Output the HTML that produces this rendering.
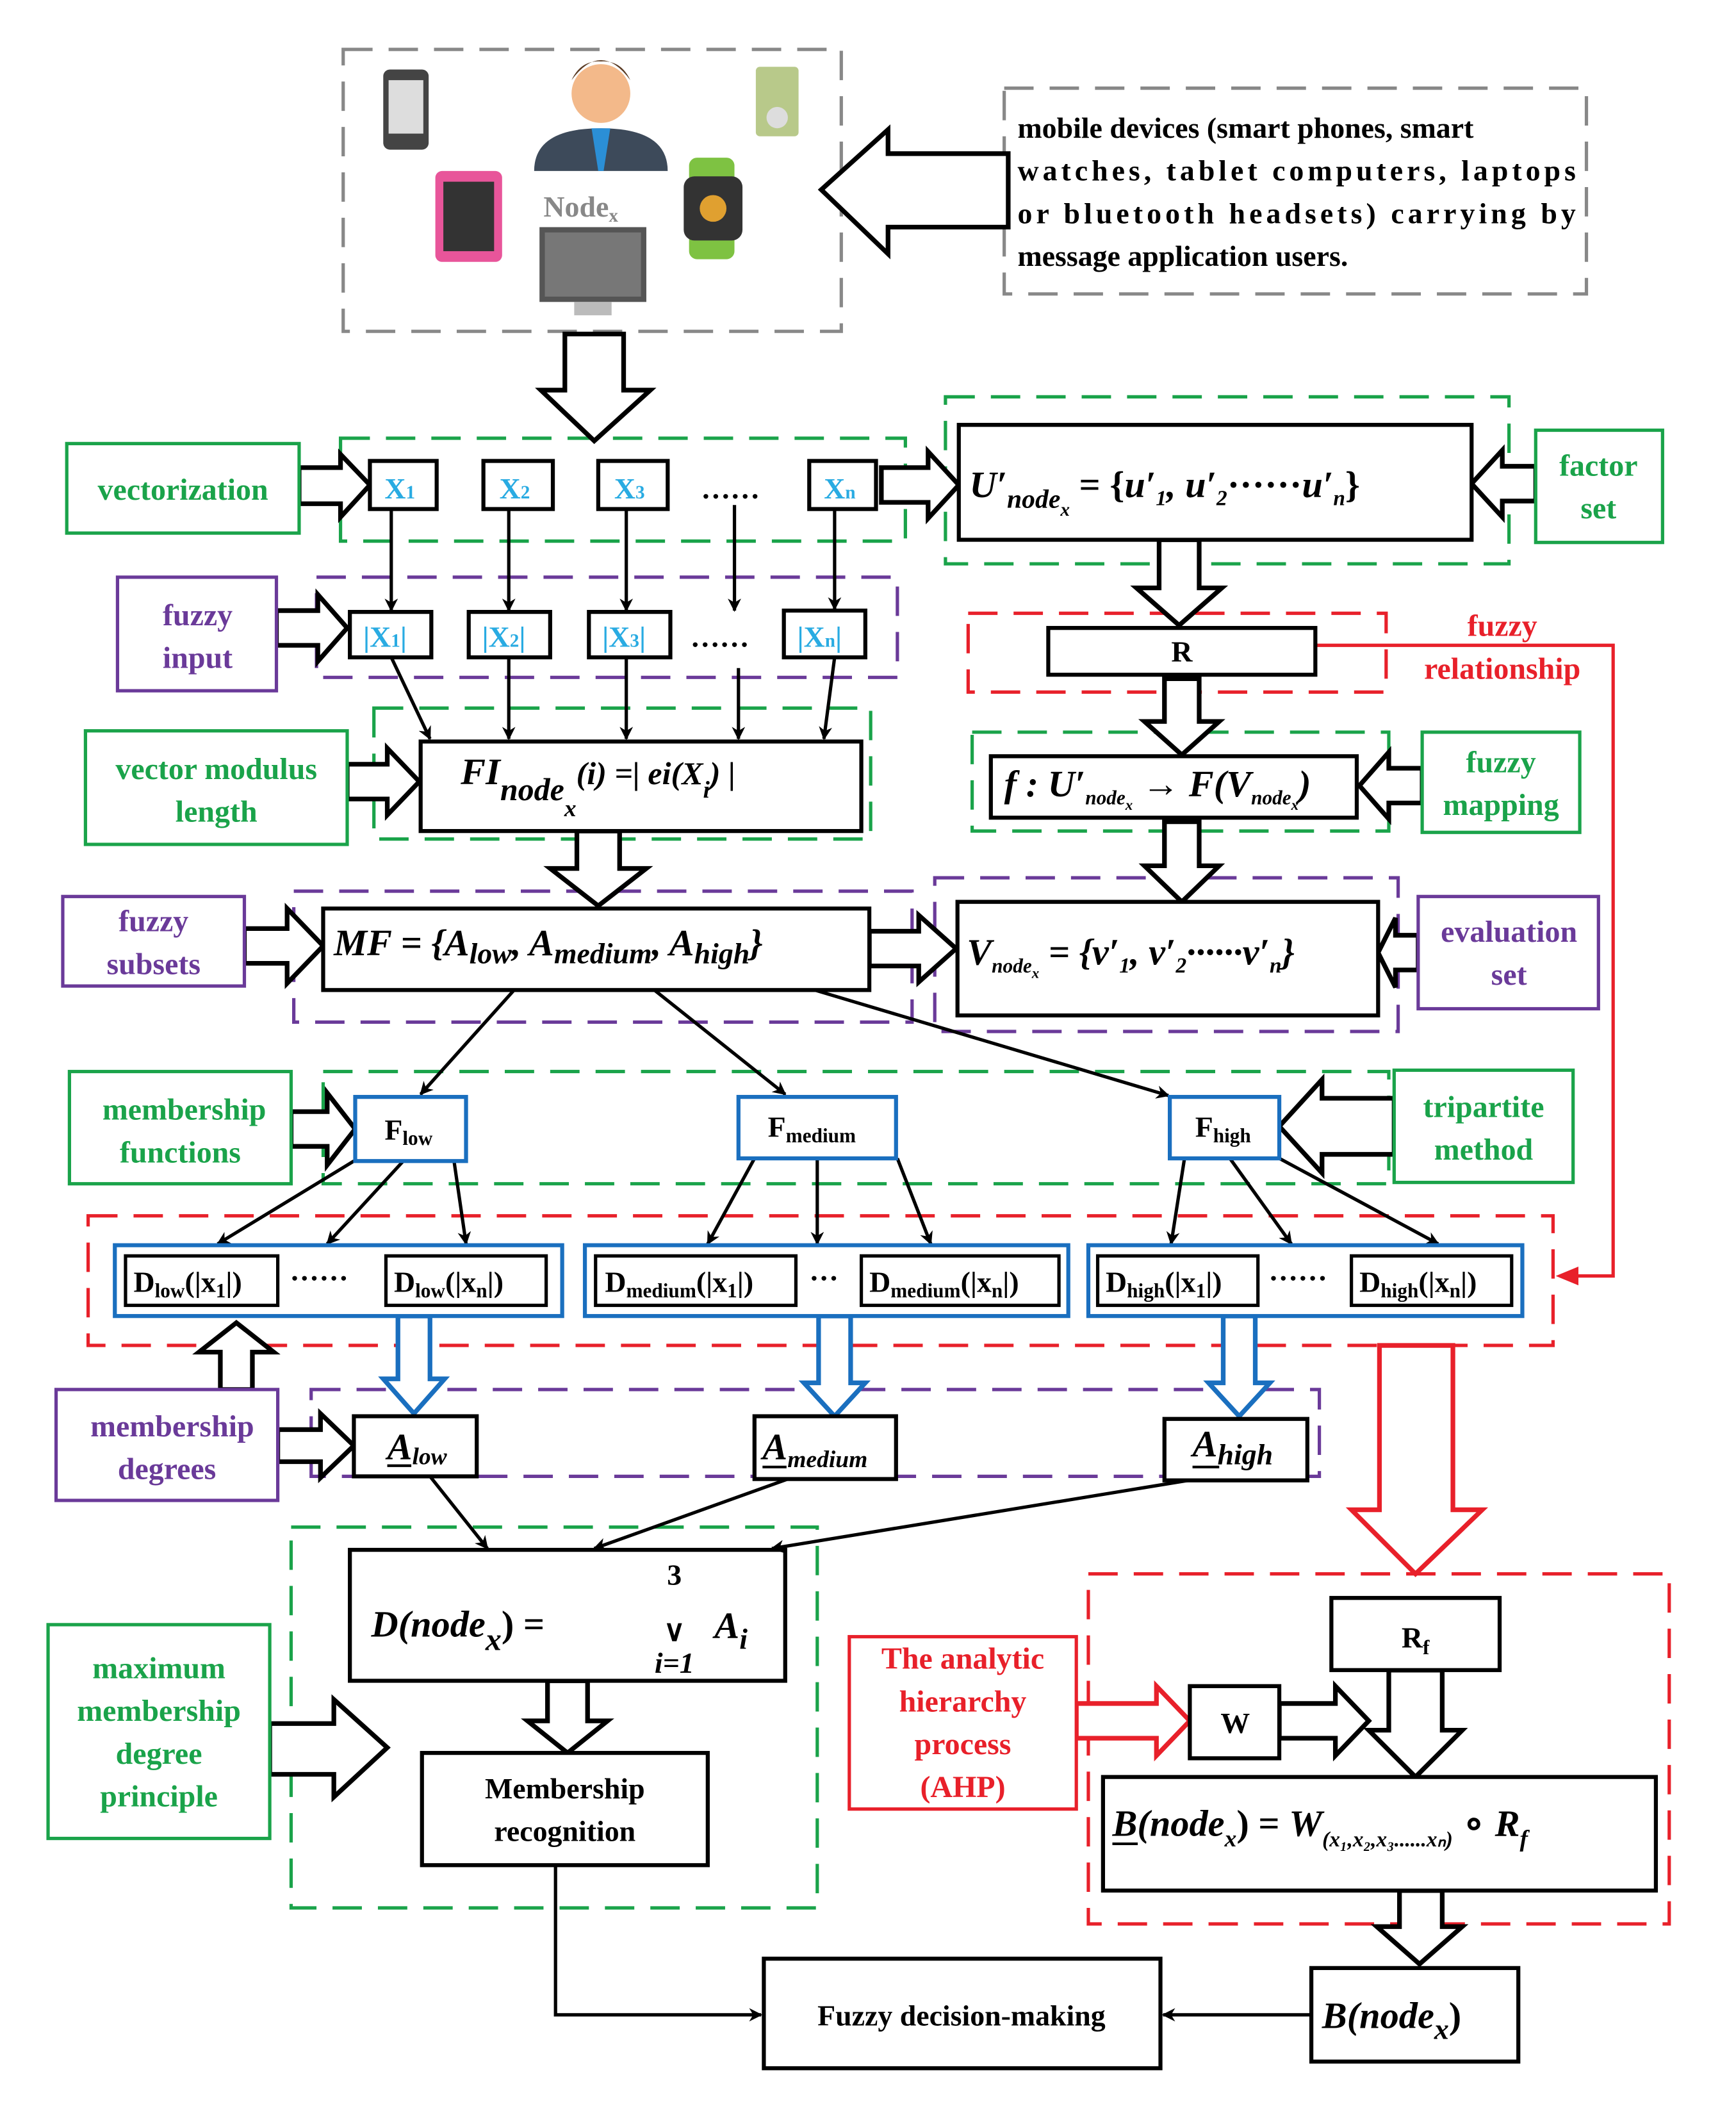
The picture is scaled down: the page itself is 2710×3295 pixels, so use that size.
<!DOCTYPE html>
<html><head><meta charset="utf-8">
<style>
html,body{margin:0;padding:0;background:#fff;}
svg{display:block;}
text{font-family:"Liberation Serif",serif;font-weight:bold;}
.t{font-size:22px;fill:#000;}
.g{font-size:23px;fill:#1aa34a;}
.p{font-size:23px;fill:#6a3a99;}
.r{font-size:23px;fill:#e8202a;}
.c{font-size:22px;fill:#29abe2;}
.m{font-style:italic;font-size:28px;}
</style></head><body>
<svg width="2710" height="3295" viewBox="0 0 1300 1580" preserveAspectRatio="none" xmlns="http://www.w3.org/2000/svg">
<defs>
<marker id="ar" markerWidth="10" markerHeight="10" refX="9" refY="5" orient="auto" markerUnits="userSpaceOnUse" viewBox="0 0 10 10">
<path d="M0,0 L10,5 L0,10 L3,5 z" fill="#000"/></marker>
</defs>
<rect width="1300" height="1580" fill="#fff"/>

<!-- dashed boxes -->
<g fill="none" stroke-width="2.5" stroke-dasharray="22,12">
<rect x="257" y="37" width="373" height="211" stroke="#888"/>
<rect x="752" y="66" width="436" height="154" stroke="#888"/>
<rect x="255" y="328" width="423" height="77" stroke="#1aa34a"/>
<rect x="708" y="297" width="422" height="125" stroke="#1aa34a"/>
<rect x="237" y="432" width="435" height="75" stroke="#6a3a99"/>
<rect x="725" y="459" width="313" height="59" stroke="#e8202a"/>
<rect x="280" y="530" width="372" height="98" stroke="#1aa34a"/>
<rect x="728" y="548" width="312" height="74" stroke="#1aa34a"/>
<rect x="220" y="667" width="463" height="98" stroke="#6a3a99"/>
<rect x="700" y="657" width="347" height="115" stroke="#6a3a99"/>
<rect x="242" y="802" width="798" height="84" stroke="#1aa34a"/>
<rect x="66" y="910" width="1097" height="97" stroke="#e8202a"/>
<rect x="233" y="1040" width="755" height="65" stroke="#6a3a99"/>
<rect x="218" y="1143" width="394" height="285" stroke="#1aa34a"/>
<rect x="815" y="1178" width="435" height="262" stroke="#e8202a"/>
</g>

<!-- device icons -->
<g>
<rect x="287" y="52" width="34" height="60" rx="5" fill="#444"/><rect x="291" y="60" width="26" height="40" fill="#ddd"/>
<circle cx="450" cy="70" r="22" fill="#f3b98a"/><path d="M428,60 Q450,30 472,60 Q465,45 450,46 Q435,45 428,60z" fill="#5a3a22"/>
<path d="M400,128 Q400,96 450,96 Q500,96 500,128z" fill="#3d4a5a"/><path d="M443,96 L457,96 L452,128 L448,128z" fill="#2b8fd6"/>
<rect x="566" y="50" width="32" height="52" rx="3" fill="#b8c98a"/><circle cx="582" cy="88" r="8" fill="#ddd"/>
<rect x="326" y="128" width="50" height="68" rx="5" fill="#e8559a"/><rect x="332" y="136" width="38" height="52" fill="#333"/>
<rect x="516" y="118" width="34" height="76" rx="6" fill="#7ec242"/><rect x="512" y="132" width="44" height="48" rx="8" fill="#333"/><circle cx="534" cy="156" r="10" fill="#e0a030"/>
<rect x="404" y="170" width="80" height="56" fill="#555"/><rect x="408" y="174" width="72" height="48" fill="#777"/><rect x="430" y="226" width="28" height="10" fill="#bbb"/>
<text x="407" y="162" font-size="22" fill="#888">Node<tspan font-size="14" dy="4">x</tspan></text>
</g>
<text class="t" x="762" y="103">mobile devices (smart phones, smart</text>
<text class="t" x="762" y="135" textLength="418">watches, tablet computers, laptops</text>
<text class="t" x="762" y="167" textLength="418">or bluetooth headsets) carrying by</text>
<text class="t" x="762" y="199">message application users.</text>

<!-- hollow arrows -->
<g fill="#fff" stroke="#000" stroke-width="3.5" stroke-linejoin="miter">
<polygon points="755,115 665,115 665,97 615,142 665,190 665,170 755,170"/>
<polygon points="423,250 467,250 467,292 487,292 445,330 405,292 423,292"/>
<polygon points="224,350 255,350 255,340 277,363 255,387 255,377 224,377"/>
<polygon points="660,350 695,350 695,338 718,363 695,388 695,376 660,376"/>
<polygon points="1150,349 1125,349 1125,337 1102,362 1125,387 1125,375 1150,375"/>
<polygon points="207,457 238,457 238,445 260,470 238,495 238,483 207,483"/>
<polygon points="868,404 898,404 898,440 915,440 883,468 851,440 868,440"/>
<polygon points="872,508 898,508 898,540 913,540 885,565 857,540 872,540"/>
<polygon points="260,572 290,572 290,560 314,585 290,610 290,598 260,598"/>
<polygon points="1065,575 1040,575 1040,563 1018,588 1040,613 1040,601 1065,601"/>
<polygon points="432,622 464,622 464,650 484,650 448,678 412,650 432,650"/>
<polygon points="872,615 898,615 898,648 913,648 885,675 857,648 872,648"/>
<polygon points="183,695 215,695 215,680 242,708 215,736 215,721 183,721"/>
<polygon points="651,697 688,697 688,685 716,710 688,735 688,723 651,723"/>
<polygon points="1062,700 1045,700 1045,687 1032,713 1045,739 1045,726 1062,726"/>
<polygon points="218,832 245,832 245,818 266,845 245,872 245,858 218,858"/>
<polygon points="1044,822 990,822 990,808 958,843 990,878 990,864 1044,864"/>
<polygon points="208,1070 240,1070 240,1058 265,1082 240,1106 240,1094 208,1094"/>
<polygon points="165,1040 189,1040 189,1012 205,1012 177,990 149,1012 165,1012"/>
<polygon points="410,1258 440,1258 440,1288 455,1288 425,1312 395,1288 410,1288"/>
<polygon points="202,1290 250,1290 250,1272 290,1308 250,1345 250,1328 202,1328"/>
<polygon points="958,1275 1000,1275 1000,1262 1025,1288 1000,1314 1000,1301 958,1301"/>
<polygon points="1040,1250 1080,1250 1080,1295 1095,1295 1060,1330 1025,1295 1040,1295"/>
<polygon points="1048,1415 1080,1415 1080,1442 1095,1442 1063,1470 1031,1442 1048,1442"/>
</g>
<g fill="#fff" stroke="#1a6fbf" stroke-width="3.5">
<polygon points="298,985 322,985 322,1032 333,1032 310,1058 287,1032 298,1032"/>
<polygon points="613,985 637,985 637,1035 648,1035 625,1060 602,1035 613,1035"/>
<polygon points="916,985 940,985 940,1035 951,1035 928,1060 905,1035 916,1035"/>
</g>
<g fill="#fff" stroke="#e8202a" stroke-width="3.5">
<polygon points="1033,1007 1088,1007 1088,1130 1110,1130 1060,1178 1012,1130 1033,1130"/>
<polygon points="806,1275 866,1275 866,1262 891,1288 866,1314 866,1301 806,1301"/>
</g>

<!-- label boxes -->
<g fill="#fff" stroke-width="2.5">
<rect x="50" y="332" width="174" height="67" stroke="#1aa34a"/>
<rect x="1150" y="322" width="95" height="84" stroke="#1aa34a"/>
<rect x="88" y="432" width="119" height="85" stroke="#6a3a99"/>
<rect x="64" y="547" width="196" height="85" stroke="#1aa34a"/>
<rect x="1065" y="548" width="118" height="75" stroke="#1aa34a"/>
<rect x="47" y="671" width="136" height="67" stroke="#6a3a99"/>
<rect x="1062" y="671" width="135" height="84" stroke="#6a3a99"/>
<rect x="52" y="802" width="166" height="84" stroke="#1aa34a"/>
<rect x="1044" y="801" width="134" height="84" stroke="#1aa34a"/>
<rect x="42" y="1040" width="166" height="83" stroke="#6a3a99"/>
<rect x="36" y="1216" width="166" height="160" stroke="#1aa34a"/>
<rect x="636" y="1225" width="170" height="129" stroke="#e8202a"/>
</g>
<text class="g" x="137" y="374" text-anchor="middle">vectorization</text>
<text class="g" x="1197" y="356" text-anchor="middle">factor</text><text class="g" x="1197" y="388" text-anchor="middle">set</text>
<text class="p" x="148" y="468" text-anchor="middle">fuzzy</text><text class="p" x="148" y="500" text-anchor="middle">input</text>
<text class="g" x="162" y="583" text-anchor="middle">vector modulus</text><text class="g" x="162" y="615" text-anchor="middle">length</text>
<text class="g" x="1124" y="578" text-anchor="middle">fuzzy</text><text class="g" x="1124" y="610" text-anchor="middle">mapping</text>
<text class="p" x="115" y="697" text-anchor="middle">fuzzy</text><text class="p" x="115" y="729" text-anchor="middle">subsets</text>
<text class="p" x="1130" y="705" text-anchor="middle">evaluation</text><text class="p" x="1130" y="737" text-anchor="middle">set</text>
<text class="g" x="138" y="838" text-anchor="middle">membership</text><text class="g" x="135" y="870" text-anchor="middle">functions</text>
<text class="g" x="1111" y="836" text-anchor="middle">tripartite</text><text class="g" x="1111" y="868" text-anchor="middle">method</text>
<text class="p" x="129" y="1075" text-anchor="middle">membership</text><text class="p" x="125" y="1107" text-anchor="middle">degrees</text>
<text class="g" x="119" y="1256" text-anchor="middle">maximum</text><text class="g" x="119" y="1288" text-anchor="middle">membership</text>
<text class="g" x="119" y="1320" text-anchor="middle">degree</text><text class="g" x="119" y="1352" text-anchor="middle">principle</text>
<text class="r" x="721" y="1249" text-anchor="middle">The analytic</text><text class="r" x="721" y="1281" text-anchor="middle">hierarchy</text>
<text class="r" x="721" y="1313" text-anchor="middle">process</text><text class="r" x="721" y="1345" text-anchor="middle">(AHP)</text>
<text class="r" x="1125" y="476" text-anchor="middle">fuzzy</text><text class="r" x="1125" y="508" text-anchor="middle">relationship</text>

<!-- red line fuzzy relationship -->
<polyline points="985,483 1208,483 1208,955 1168,955" fill="none" stroke="#e8202a" stroke-width="2.5"/>
<path d="M1165,955 L1182,948 L1182,962z" fill="#e8202a"/>

<!-- X boxes -->
<g fill="#fff" stroke="#000" stroke-width="3">
<rect x="277" y="345" width="50" height="36"/><rect x="362" y="345" width="52" height="36"/>
<rect x="448" y="345" width="52" height="36"/><rect x="606" y="345" width="50" height="36"/>
<rect x="262" y="458" width="61" height="34"/><rect x="351" y="458" width="61" height="34"/>
<rect x="441" y="458" width="61" height="34"/><rect x="587" y="457" width="61" height="35"/>
<rect x="718" y="318" width="384" height="86"/>
<rect x="785" y="470" width="200" height="35"/>
<rect x="315" y="555" width="330" height="67"/>
<rect x="742" y="566" width="274" height="46"/>
<rect x="242" y="680" width="409" height="61"/>
<rect x="717" y="675" width="315" height="85"/>
<rect x="265" y="1060" width="92" height="45"/>
<rect x="565" y="1060" width="106" height="47"/>
<rect x="872" y="1062" width="107" height="46"/>
<rect x="262" y="1160" width="326" height="98"/>
<rect x="316" y="1312" width="214" height="84"/>
<rect x="997" y="1196" width="126" height="54"/>
<rect x="891" y="1262" width="67" height="54"/>
<rect x="826" y="1330" width="414" height="85"/>
<rect x="982" y="1473" width="155" height="70"/>
<rect x="572" y="1466" width="297" height="82"/>
</g>
<g class="c">
<text class="c" x="288" y="373">X<tspan font-size="14">1</tspan></text>
<text class="c" x="374" y="373">X<tspan font-size="14">2</tspan></text>
<text class="c" x="460" y="373">X<tspan font-size="14">3</tspan></text>
<text class="c" x="617" y="373">X<tspan font-size="14">n</tspan></text>
<text class="c" x="272" y="484">|X<tspan font-size="14">1</tspan>|</text>
<text class="c" x="361" y="484">|X<tspan font-size="14">2</tspan>|</text>
<text class="c" x="451" y="484">|X<tspan font-size="14">3</tspan>|</text>
<text class="c" x="597" y="484">|X<tspan font-size="14">n</tspan>|</text>
</g>
<text class="t" x="525" y="373" font-size="24">……</text>
<text class="t" x="517" y="484" font-size="24">……</text>

<!-- arrows X -> |X| -->
<g stroke="#000" stroke-width="2.5" fill="none" marker-end="url(#ar)">
<line x1="293" y1="381" x2="293" y2="457"/><line x1="381" y1="381" x2="381" y2="457"/>
<line x1="469" y1="381" x2="469" y2="457"/><line x1="550" y1="378" x2="550" y2="457"/>
<line x1="625" y1="381" x2="625" y2="456"/>
<line x1="293" y1="492" x2="322" y2="553"/><line x1="381" y1="492" x2="381" y2="553"/>
<line x1="469" y1="492" x2="469" y2="553"/><line x1="553" y1="500" x2="553" y2="553"/>
<line x1="625" y1="492" x2="617" y2="553"/>
<line x1="385" y1="741" x2="315" y2="819"/><line x1="490" y1="741" x2="588" y2="819"/>
<line x1="610" y1="741" x2="875" y2="820"/>
<line x1="265" y1="869" x2="163" y2="931"/><line x1="302" y1="869" x2="245" y2="931"/>
<line x1="340" y1="869" x2="349" y2="931"/>
<line x1="565" y1="867" x2="530" y2="931"/><line x1="612" y1="867" x2="612" y2="931"/>
<line x1="672" y1="867" x2="697" y2="931"/>
<line x1="887" y1="867" x2="877" y2="931"/><line x1="921" y1="867" x2="967" y2="931"/>
<line x1="958" y1="867" x2="1077" y2="931"/>
<line x1="322" y1="1105" x2="365" y2="1159"/><line x1="590" y1="1107" x2="445" y2="1159"/>
<line x1="890" y1="1108" x2="578" y2="1159"/>
<line x1="982" y1="1508" x2="871" y2="1508"/>
<polyline points="416,1396 416,1508 570,1508"/>
</g>

<!-- math texts -->
<text x="726" y="372" class="m" font-family="Liberation Serif">U′<tspan font-size="20" dy="8">node</tspan><tspan font-size="14" dy="6">x</tspan><tspan dy="-14" font-style="normal"> = {</tspan>u′<tspan font-size="16" dy="6">1</tspan><tspan dy="-6">, u′</tspan><tspan font-size="16" dy="6">2</tspan><tspan dy="-6" font-style="normal">······</tspan>u′<tspan font-size="16" dy="6">n</tspan><tspan dy="-6" font-style="normal">}</tspan></text>
<text class="t" x="885" y="495" text-anchor="middle">R</text>
<text x="345" y="587" class="m" font-size="26">FI<tspan font-size="24" dy="12">node</tspan><tspan font-size="18" dy="12">x</tspan><tspan dy="-24" font-size="24">(i) =| ei(X</tspan><tspan font-size="18" dy="10">i</tspan><tspan dy="-10" font-size="24">) |</tspan></text>
<text x="752" y="596" class="m" font-size="24">f : U′<tspan font-size="15" dy="6">node</tspan><tspan font-size="11" dy="4">x</tspan><tspan dy="-10"> → F(V</tspan><tspan font-size="15" dy="6">node</tspan><tspan font-size="11" dy="4">x</tspan><tspan dy="-10">)</tspan></text>
<text x="250" y="715" class="m" font-size="24">MF = {A<tspan font-size="22" dy="6">low</tspan><tspan dy="-6">, A</tspan><tspan font-size="22" dy="6">medium</tspan><tspan dy="-6">, A</tspan><tspan font-size="22" dy="6">high</tspan><tspan dy="-6">}</tspan></text>
<text x="724" y="722" class="m" font-size="24">V<tspan font-size="15" dy="6">node</tspan><tspan font-size="11" dy="4">x</tspan><tspan dy="-10"> = {v′</tspan><tspan font-size="16" dy="6">1</tspan><tspan dy="-6">, v′</tspan><tspan font-size="16" dy="6">2</tspan><tspan dy="-6">······v′</tspan><tspan font-size="16" dy="6">n</tspan><tspan dy="-6">}</tspan></text>

<!-- F boxes -->
<g fill="#fff" stroke="#1a6fbf" stroke-width="3">
<rect x="266" y="821" width="83" height="48"/><rect x="553" y="821" width="118" height="46"/><rect x="876" y="821" width="82" height="46"/>
<rect x="86" y="932" width="335" height="53"/><rect x="438" y="932" width="362" height="53"/><rect x="815" y="932" width="325" height="53"/>
</g>
<text class="t" x="288" y="853">F<tspan font-size="15" dy="4">low</tspan></text>
<text class="t" x="575" y="851">F<tspan font-size="15" dy="4">medium</tspan></text>
<text class="t" x="895" y="851">F<tspan font-size="15" dy="4">high</tspan></text>
<g fill="#fff" stroke="#000" stroke-width="2.5">
<rect x="94" y="940" width="114" height="37"/><rect x="289" y="940" width="120" height="37"/>
<rect x="446" y="940" width="150" height="37"/><rect x="645" y="940" width="148" height="37"/>
<rect x="822" y="940" width="120" height="37"/><rect x="1012" y="940" width="120" height="37"/>
</g>
<text class="t" x="100" y="967">D<tspan font-size="15" dy="4">low</tspan><tspan dy="-4">(|x</tspan><tspan font-size="15" dy="4">1</tspan><tspan dy="-4">|)</tspan></text>
<text class="t" x="217" y="964">······</text>
<text class="t" x="295" y="967">D<tspan font-size="15" dy="4">low</tspan><tspan dy="-4">(|x</tspan><tspan font-size="15" dy="4">n</tspan><tspan dy="-4">|)</tspan></text>
<text class="t" x="453" y="967">D<tspan font-size="15" dy="4">medium</tspan><tspan dy="-4">(|x</tspan><tspan font-size="15" dy="4">1</tspan><tspan dy="-4">|)</tspan></text>
<text class="t" x="606" y="964">···</text>
<text class="t" x="651" y="967">D<tspan font-size="15" dy="4">medium</tspan><tspan dy="-4">(|x</tspan><tspan font-size="15" dy="4">n</tspan><tspan dy="-4">|)</tspan></text>
<text class="t" x="828" y="967">D<tspan font-size="15" dy="4">high</tspan><tspan dy="-4">(|x</tspan><tspan font-size="15" dy="4">1</tspan><tspan dy="-4">|)</tspan></text>
<text class="t" x="950" y="964">······</text>
<text class="t" x="1018" y="967">D<tspan font-size="15" dy="4">high</tspan><tspan dy="-4">(|x</tspan><tspan font-size="15" dy="4">n</tspan><tspan dy="-4">|)</tspan></text>

<text x="290" y="1092" class="m" font-size="24">A<tspan font-size="18" dy="4">low</tspan></text>
<text x="571" y="1092" class="m" font-size="24">A<tspan font-size="18" dy="6">medium</tspan></text>
<text x="893" y="1090" class="m" font-size="26">A<tspan font-size="22" dy="6">high</tspan></text>
<g stroke="#000" stroke-width="2"><line x1="290" y1="1097" x2="308" y2="1097"/><line x1="571" y1="1098" x2="589" y2="1098"/><line x1="893" y1="1098" x2="913" y2="1098"/></g>

<text x="278" y="1225" class="m" font-size="34">D(node<tspan font-size="24" dy="10">x</tspan><tspan dy="-10" font-style="normal">) = </tspan></text>
<text x="505" y="1186" class="t" text-anchor="middle">3</text>
<text x="505" y="1228" class="t" text-anchor="middle" font-size="28">∨</text>
<text x="505" y="1252" class="t" text-anchor="middle" font-style="italic">i=1</text>
<text x="535" y="1226" class="m" font-size="32">A<tspan font-size="22" dy="8">i</tspan></text>
<text class="t" x="423" y="1346" text-anchor="middle">Membership</text>
<text class="t" x="423" y="1378" text-anchor="middle">recognition</text>
<text class="t" x="1060" y="1233" text-anchor="middle" font-size="24">R<tspan font-size="15" dy="5">f</tspan></text>
<text class="t" x="925" y="1297" text-anchor="middle">W</text>
<text x="833" y="1374" class="m" font-size="28">B(node<tspan font-size="18" dy="8">x</tspan><tspan dy="-8" font-style="normal">) = </tspan>W<tspan font-size="16" dy="8">(x₁,x₂,x₃......xₙ)</tspan><tspan dy="-8" font-style="normal"> ∘ </tspan>R<tspan font-size="18" dy="8">f</tspan></text>
<line x1="833" y1="1380" x2="852" y2="1380" stroke="#000" stroke-width="2"/>
<text x="990" y="1518" class="m" font-size="32">B(node<tspan font-size="22" dy="8">x</tspan><tspan dy="-8" font-style="normal">)</tspan></text>
<text class="t" x="720" y="1516" text-anchor="middle">Fuzzy decision-making</text>
</svg>
</body></html>
